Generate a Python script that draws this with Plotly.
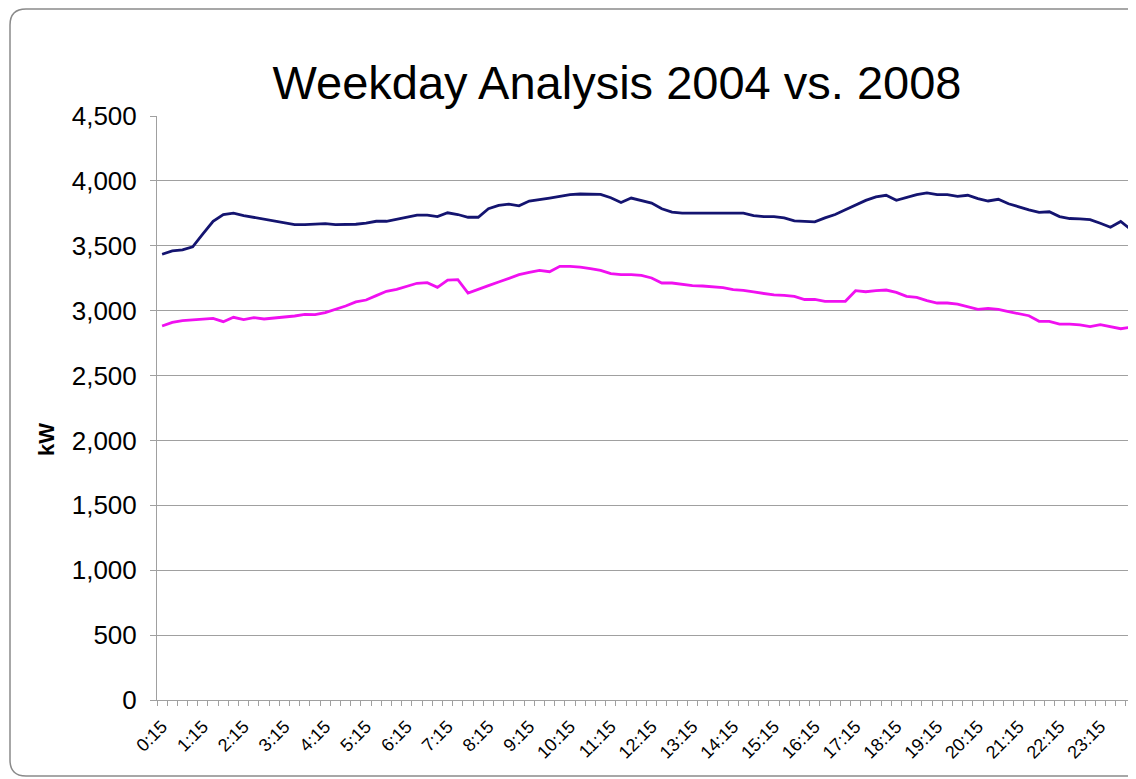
import plotly.graph_objects as go

# 15-minute interval labels, 0:15 .. 24:00
times = [f"{(q * 15) // 60}:{(q * 15) % 60:02d}" for q in range(1, 97)]

kw_2004 = [
    3435, 3461, 3469, 3492, 3591, 3689, 3741, 3751, 3733, 3720,
    3705, 3692, 3676, 3663, 3663, 3666, 3671, 3663, 3663, 3666,
    3674, 3689, 3689, 3705, 3720, 3736, 3736, 3725, 3754, 3741,
    3720, 3720, 3785, 3811, 3821, 3808, 3845, 3855, 3868, 3881,
    3894, 3899, 3899, 3896, 3870, 3834, 3868, 3847, 3829, 3785,
    3759, 3751, 3751, 3751, 3751, 3751, 3751, 3751, 3733, 3725,
    3725, 3715, 3692, 3687, 3684, 3715, 3741, 3777, 3814, 3850,
    3876, 3889, 3850, 3870, 3894, 3907, 3894, 3894, 3881, 3889,
    3863, 3845, 3858, 3824, 3798, 3777, 3757, 3762, 3725, 3710,
    3707, 3702, 3674, 3643, 3687, 3625,
]

kw_2008 = [
    2882, 2910, 2923, 2928, 2933, 2941, 2915, 2949, 2931, 2946,
    2936, 2943, 2954, 2959, 2972, 2969, 2985, 3008, 3036, 3067,
    3082, 3116, 3149, 3164, 3185, 3211, 3216, 3180, 3236, 3239,
    3136, 3162, 3193, 3221, 3247, 3277, 3295, 3311, 3300, 3342,
    3342, 3336, 3324, 3311, 3285, 3277, 3277, 3272, 3252, 3213,
    3213, 3203, 3193, 3190, 3182, 3177, 3162, 3157, 3144, 3131,
    3121, 3118, 3110, 3086, 3087, 3072, 3072, 3072, 3154, 3146,
    3154, 3159, 3141, 3110, 3103, 3077, 3059, 3059, 3051, 3031,
    3010, 3018, 3010, 2992, 2974, 2961, 2918, 2918, 2897, 2897,
    2890, 2877, 2892, 2879, 2861, 2872,
]

y_ticks = [0, 500, 1000, 1500, 2000, 2500, 3000, 3500, 4000, 4500]

# page body has an 8px margin, so the figure is a bit smaller than the window
W, H = 1128, 771
ML, MR, MT, MB = 149, 0, 108, 79
FONT = "Liberation Sans, Arial, sans-serif"
GRAY = "#a0a0a0"

pos = list(range(len(times)))

fig = go.Figure()
fig.add_trace(go.Scatter(x=pos, y=kw_2004, mode="lines", name="2004",
                         customdata=times, hovertemplate="%{customdata}: %{y:,} kW",
                         line=dict(color="#141470", width=2.8)))
fig.add_trace(go.Scatter(x=pos, y=kw_2008, mode="lines", name="2008",
                         customdata=times, hovertemplate="%{customdata}: %{y:,} kW",
                         line=dict(color="#f010f0", width=2.8)))


# rounded chart-area border, given in figure pixels and mapped to paper coords
def px_to_paper(px, py):
    pw, ph = W - ML - MR, H - MT - MB
    return (px - ML) / pw, (H - MB - py) / ph


def border_path(x0, y0, x1, y1, r):
    pts = [
        ("M", [(x0 + r, y0)]),
        ("L", [(x1, y0)]),
        ("M", [(x1, y1)]),
        ("L", [(x0 + r, y1)]),
        ("Q", [(x0, y1), (x0, y1 - r)]),
        ("L", [(x0, y0 + r)]),
        ("Q", [(x0, y0), (x0 + r, y0)]),
    ]
    out = []
    for cmd, ps in pts:
        out.append(cmd + " " + " ".join(
            "{:.5f},{:.5f}".format(*px_to_paper(a, b)) for a, b in ps))
    return " ".join(out)


fig.add_shape(type="path", xref="paper", yref="paper",
              path=border_path(2, 1, 1140, 768, 16),
              line=dict(color="#8a8a8a", width=1.5))

fig.add_annotation(text="<b>kW</b>", xref="paper", yref="paper",
                   x=px_to_paper(38, 0)[0], y=px_to_paper(0, 432)[1],
                   xanchor="center", yanchor="middle",
                   showarrow=False, textangle=-90,
                   font=dict(family=FONT, size=22, color="black"))

fig.update_layout(
    width=W, height=H,
    margin=dict(l=ML, r=MR, t=MT, b=MB),
    paper_bgcolor="white", plot_bgcolor="white",
    showlegend=False,
    title=dict(text="Weekday Analysis 2004 vs. 2008",
               x=609 / W, xanchor="center", y=1 - 75 / H, yanchor="middle",
               font=dict(family=FONT, size=47, color="black")),
    font=dict(family=FONT, color="black"),
)

fig.update_xaxes(
    range=[-0.5, len(times) - 0.5],
    tickmode="array", tickvals=pos[::4], ticktext=times[::4],
    tickangle=-45, ticks="", ticklabelstandoff=8,
    showgrid=False, zeroline=False,
    showline=True, linecolor=GRAY, linewidth=1,
    tickfont=dict(family=FONT, size=18, color="black"),
    minor=dict(ticks="outside", tickmode="linear", tick0=-0.5, dtick=1,
               ticklen=5, tickcolor=GRAY, showgrid=False),
)

fig.update_yaxes(
    range=[0, 4500], tickmode="array", tickvals=y_ticks, tickformat=",",
    ticks="outside", ticklen=6, tickcolor=GRAY, ticklabelstandoff=8,
    showline=True, linecolor=GRAY, linewidth=1,
    showgrid=True, gridcolor=GRAY, gridwidth=1, zeroline=False,
    tickfont=dict(family=FONT, size=26, color="black"),
)

fig.write_html("out.html")
